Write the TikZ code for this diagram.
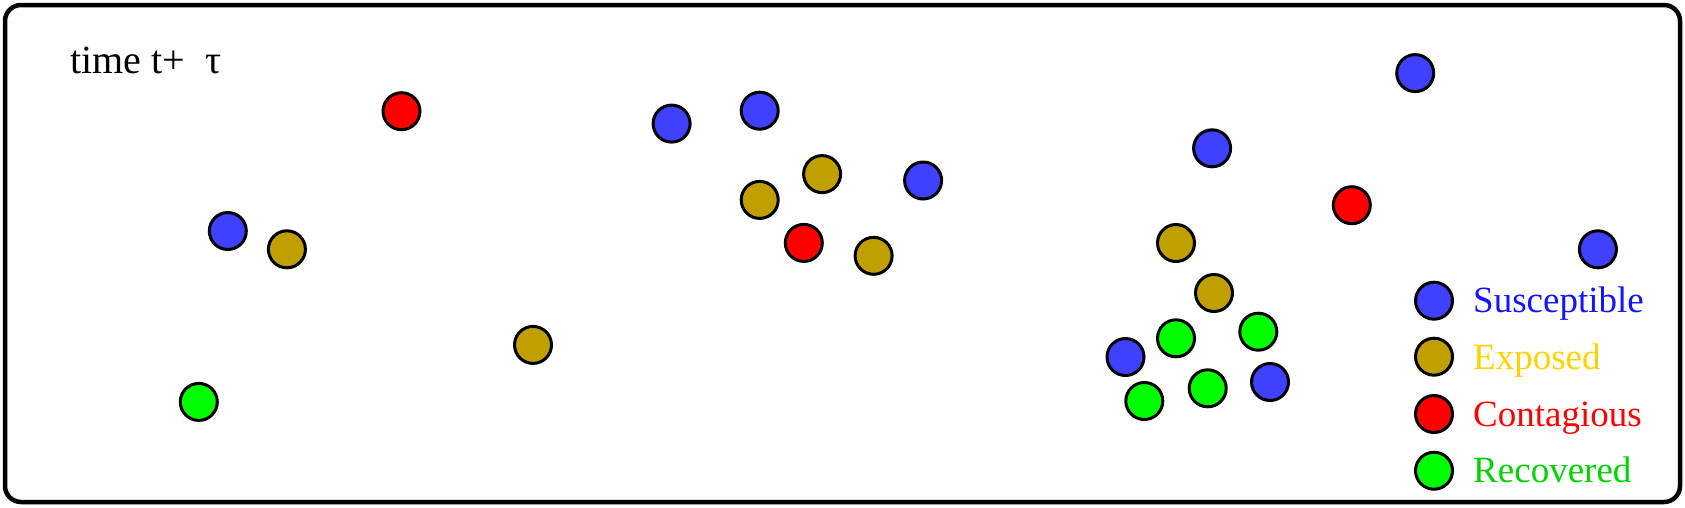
\documentclass[tikz,border=0pt]{standalone}
\usepackage{fontspec}
\setmainfont{Liberation Serif}
\definecolor{cS}{RGB}{64,64,255}
\definecolor{cE}{RGB}{192,160,0}
\definecolor{cC}{RGB}{255,0,0}
\definecolor{cR}{RGB}{0,255,0}
\definecolor{tS}{RGB}{20,20,255}
\definecolor{tE}{RGB}{255,210,0}
\definecolor{tC}{RGB}{255,0,0}
\definecolor{tR}{RGB}{0,210,0}
\tikzset{
  agent/.style={circle,draw=black,line width=3pt,minimum size=37pt,inner sep=0pt},
  sus/.style={agent,fill=cS},
  exp/.style={agent,fill=cE},
  con/.style={agent,fill=cC},
  rec/.style={agent,fill=cR},
  legtext/.style={anchor=base west,inner sep=0pt,font=\fontsize{37}{40}\selectfont},
}
\begin{document}
\begin{tikzpicture}[x=1pt,y=-1pt]
\useasboundingbox (0,0) rectangle (1685,507);
\draw[line width=4.5pt,rounded corners=16pt] (5,5) rectangle (1680,502);
\node[anchor=base west,inner sep=0pt,font=\fontsize{40}{44}\selectfont] (title) at (70,73) {time t+\ \ τ};
% susceptible
\node[sus] (s1) at (227.8,231.0) {};
\node[sus] (s2) at (671.6,123.6) {};
\node[sus] (s3) at (759.7,110.7) {};
\node[sus] (s4) at (923.1,180.5) {};
\node[sus] (s5) at (1212.1,148.3) {};
\node[sus] (s6) at (1415.2,73.1) {};
\node[sus] (s7) at (1597.9,249.3) {};
\node[sus] (s8) at (1125.5,357.0) {};
\node[sus] (s9) at (1270.0,382.0) {};
% exposed
\node[exp] (e1) at (286.9,249.3) {};
\node[exp] (e2) at (533.0,344.9) {};
\node[exp] (e3) at (759.7,199.9) {};
\node[exp] (e4) at (822.1,174.1) {};
\node[exp] (e5) at (873.6,255.8) {};
\node[exp] (e6) at (1176,243) {};
\node[exp] (e7) at (1214,293) {};
% contagious
\node[con] (c1) at (401.5,111.2) {};
\node[con] (c2) at (803.8,242.9) {};
\node[con] (c3) at (1351.8,205.2) {};
% recovered
\node[rec] (r1) at (198.8,401.9) {};
\node[rec] (r2) at (1176,338.3) {};
\node[rec] (r3) at (1258.3,331.7) {};
\node[rec] (r4) at (1144.3,401) {};
\node[rec] (r5) at (1207.7,388.3) {};
% legend
\node[sus] (ls) at (1434,300.7) {};
\node[exp] (le) at (1434,356.7) {};
\node[con] (lc) at (1434,414) {};
\node[rec] (lr) at (1434,470.7) {};
\node[legtext,text=tS] (lts) at (1473,312.7) {Susceptible};
\node[legtext,text=tE] (lte) at (1473,369) {Exposed};
\node[legtext,text=tC] (ltc) at (1473,426.7) {Contagious};
\node[legtext,text=tR] (ltr) at (1473,482.7) {Recovered};
\end{tikzpicture}
\end{document}
